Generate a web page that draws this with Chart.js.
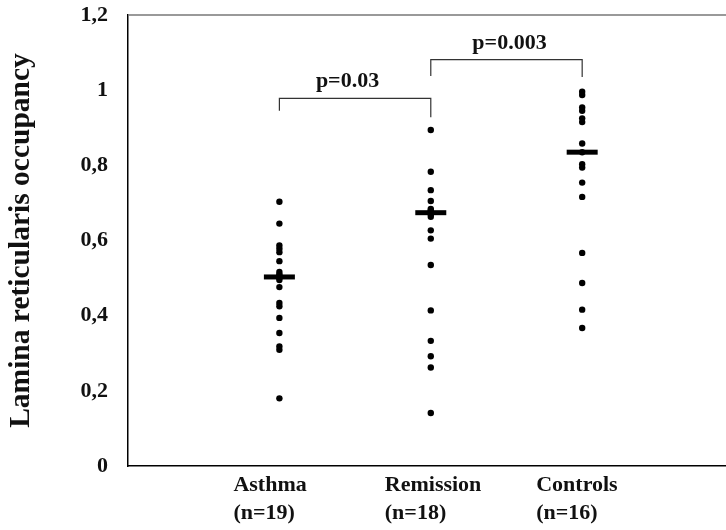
<!DOCTYPE html>
<html>
<head>
<meta charset="utf-8">
<script src="https://cdn.jsdelivr.net/npm/chart.js@4.4.1/dist/chart.umd.min.js"></script>
<style>
  html, body { margin: 0; padding: 0; background: #fff; }
  #wrap { width: 726px; height: 530px; }
</style>
</head>
<body>
<div id="wrap"><canvas id="grafico" width="726" height="530"></canvas></div>
<script>
// grupos (posição 1, 2, 3 no eixo x)
const groups = ['Asthma', 'Remission', 'Controls'];
const groupN = ['(n=19)', '(n=18)', '(n=16)'];

// valores individuais
const asthma = [0.703, 0.645, 0.587, 0.578, 0.569, 0.545, 0.516, 0.51, 0.505, 0.50, 0.495,
  0.476, 0.434, 0.425, 0.394, 0.354, 0.318, 0.309, 0.18];
const remission = [0.894, 0.783, 0.734, 0.705, 0.684, 0.68, 0.676, 0.672, 0.67, 0.663,
  0.627, 0.605, 0.535, 0.414, 0.333, 0.292, 0.262, 0.141];
const controls = [0.996, 0.987, 0.954, 0.945, 0.925, 0.915, 0.858, 0.835, 0.803, 0.794,
  0.754, 0.716, 0.567, 0.487, 0.416, 0.367];

// barras horizontais (mediana)
const medians = [0.503, 0.674, 0.835];

// colchetes de significância: [x, y] em unidades do gráfico
const bracket1 = [[1, 0.945], [1, 0.978], [2, 0.978], [2, 0.928]];
const bracket2 = [[2, 1.038], [2, 1.081], [3, 1.081], [3, 1.035]];
const pLabels = ['p=0.03', 'p=0.003'];
const pX = [1.45, 2.52];
const pY = [1.008, 1.109];

const yTicks = [0, 0.2, 0.4, 0.6, 0.8, 1, 1.2];

const serif = "'Liberation Serif', 'Times New Roman', serif";

function pontos(valores, x) {
  return valores.map(v => ({ x: x, y: v }));
}

const dotStyle = {
  type: 'scatter',
  backgroundColor: '#000',
  borderColor: '#000',
  pointRadius: 3.2,
  pointHoverRadius: 3.2,
  borderWidth: 0
};

const bracketStyle = {
  type: 'line',
  showLine: true,
  borderColor: '#333',
  borderWidth: 1.2,
  pointRadius: 0,
  fill: false,
  tension: 0
};

// texto dos valores de p + moldura superior
const extras = {
  id: 'extras',
  afterDatasetsDraw(chart) {
    const { ctx, chartArea, scales } = chart;
    ctx.save();
    ctx.strokeStyle = '#777';
    ctx.lineWidth = 1.5;
    ctx.beginPath();
    ctx.moveTo(chartArea.left, chartArea.top);
    ctx.lineTo(chart.width, chartArea.top);
    ctx.stroke();

    ctx.fillStyle = '#111';
    ctx.font = 'bold 22px ' + serif;
    ctx.textAlign = 'center';
    ctx.textBaseline = 'alphabetic';
    pLabels.forEach((t, i) => {
      ctx.fillText(t, scales.x.getPixelForValue(pX[i]), scales.y.getPixelForValue(pY[i]));
    });
    ctx.restore();
  }
};

const ctx = document.getElementById('grafico').getContext('2d');

new Chart(ctx, {
  data: {
    datasets: [
      Object.assign({ data: pontos(asthma, 1) }, dotStyle),
      Object.assign({ data: pontos(remission, 2) }, dotStyle),
      Object.assign({ data: pontos(controls, 3) }, dotStyle),
      {
        type: 'scatter',
        data: medians.map((m, i) => ({ x: i + 1, y: m })),
        pointStyle: 'line',
        pointRadius: 15.5,
        pointHoverRadius: 15.5,
        borderWidth: 5,
        borderColor: '#000'
      },
      Object.assign({ data: bracket1.map(p => ({ x: p[0], y: p[1] })) }, bracketStyle),
      Object.assign({ data: bracket2.map(p => ({ x: p[0], y: p[1] })) }, bracketStyle)
    ]
  },
  options: {
    responsive: false,
    animation: false,
    layout: { autoPadding: false, padding: { top: 15, left: 0, right: 0, bottom: 0 } },
    plugins: {
      legend: { display: false },
      tooltip: { enabled: false }
    },
    scales: {
      x: {
        type: 'linear',
        min: 0,
        max: 3.95,
        afterBuildTicks: axis => { axis.ticks = groups.map((g, i) => ({ value: i + 1 })); },
        afterFit: axis => {
          axis.height = 64;
          axis.paddingLeft = 0;
          axis.paddingRight = 0;
        },
        grid: { display: false, drawTicks: false },
        border: { display: true, color: '#000', width: 1.5 },
        ticks: {
          color: '#111',
          align: 'start',
          labelOffset: -46,
          padding: 6,
          font: { family: serif, size: 22, weight: 'bold', lineHeight: 1.25 },
          callback: value => [groups[value - 1], groupN[value - 1]]
        }
      },
      y: {
        min: 0,
        max: 1.2,
        afterBuildTicks: axis => { axis.ticks = yTicks.map(v => ({ value: v })); },
        afterFit: axis => {
          axis.width = 128;
          axis.paddingTop = 0;
          axis.paddingBottom = 0;
        },
        grid: { display: false, drawTicks: false },
        border: { display: true, color: '#000', width: 1.5 },
        ticks: {
          color: '#111',
          padding: 20,
          font: { family: serif, size: 22, weight: 'bold' },
          callback: value => String(Math.round(value * 10) / 10).replace('.', ',')
        },
        title: {
          display: true,
          text: 'Lamina reticularis occupancy',
          color: '#111',
          padding: { top: 7, bottom: 0 },
          font: { family: serif, size: 29.5, weight: 'bold', lineHeight: 1 }
        }
      }
    }
  },
  plugins: [extras]
});
</script>
</body>
</html>
